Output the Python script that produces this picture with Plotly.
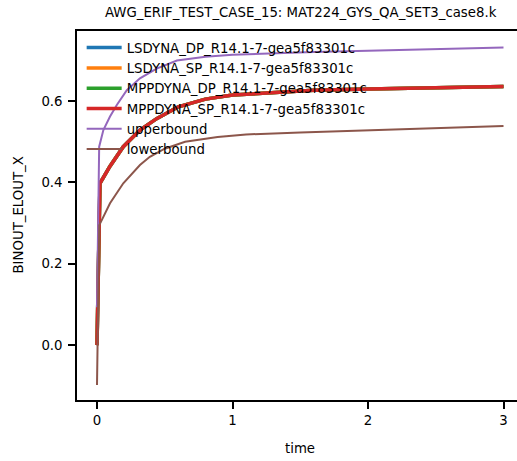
import plotly.graph_objects as go

# ---- data ----
series_names = [
    "LSDYNA_DP_R14.1-7-gea5f83301c",
    "LSDYNA_SP_R14.1-7-gea5f83301c",
    "MPPDYNA_DP_R14.1-7-gea5f83301c",
    "MPPDYNA_SP_R14.1-7-gea5f83301c",
]
t_sim = [0, 0.022, 0.096, 0.194, 0.317, 0.44, 0.6, 0.8, 1.0, 1.3, 1.6, 2.0, 2.5, 3.0]
v_lsdyna_dp = [0.0, 0.398, 0.44, 0.488, 0.529, 0.557, 0.586, 0.605, 0.615, 0.622, 0.627, 0.63, 0.633, 0.636]
v_lsdyna_sp = [0.0, 0.398, 0.44, 0.488, 0.529, 0.557, 0.586, 0.605, 0.615, 0.622, 0.627, 0.63, 0.633, 0.636]
v_mppdyna_dp = [0.0, 0.398, 0.44, 0.488, 0.529, 0.557, 0.586, 0.605, 0.615, 0.622, 0.627, 0.63, 0.633, 0.636]
v_mppdyna_sp = [0.0, 0.398, 0.44, 0.488, 0.529, 0.557, 0.586, 0.605, 0.615, 0.622, 0.627, 0.63, 0.633, 0.636]

t_upper = [0, 0.016, 0.047, 0.096, 0.145, 0.22, 0.317, 0.44, 0.59, 0.8, 1.0, 1.3, 1.6, 2.0, 2.5, 3.0]
v_upper = [0.093, 0.488, 0.529, 0.562, 0.59, 0.627, 0.656, 0.68, 0.70, 0.709, 0.714, 0.718, 0.721, 0.724, 0.728, 0.732]

t_lower = [0, 0.017, 0.096, 0.194, 0.317, 0.39, 0.5, 0.65, 0.89, 1.1, 1.5, 2.0, 2.5, 3.0]
v_lower = [-0.098, 0.295, 0.349, 0.398, 0.443, 0.463, 0.483, 0.5, 0.512, 0.518, 0.523, 0.528, 0.533, 0.539]

x_ticks = [0, 1, 2, 3]
y_ticks = [0.0, 0.2, 0.4, 0.6]

title_text = "AWG_ERIF_TEST_CASE_15: MAT224_GYS_QA_SET3_case8.k"
x_label = "time"
y_label = "BINOUT_ELOUT_X"

colors = ["#1f77b4", "#ff7f0e", "#2ca02c", "#d62728", "#9467bd", "#8c564b"]

# ---- figure ----
W, H = 517, 461
L, R, T, B = 77, 0, 31, 61
FONT = "DejaVu Sans"
FS = 13.3

fig = go.Figure()
sim_values = [v_lsdyna_dp, v_lsdyna_sp, v_mppdyna_dp, v_mppdyna_sp]
for name, vals, c in zip(series_names, sim_values, colors[:4]):
    fig.add_trace(go.Scatter(x=t_sim, y=vals, mode="lines", name=name,
                             line=dict(color=c, width=3.5)))
fig.add_trace(go.Scatter(x=t_upper, y=v_upper, mode="lines", name="upperbound",
                         line=dict(color=colors[4], width=2)))
fig.add_trace(go.Scatter(x=t_lower, y=v_lower, mode="lines", name="lowerbound",
                         line=dict(color=colors[5], width=2)))

axis_common = dict(showgrid=False, zeroline=False, showline=True, linecolor="black",
                   linewidth=1.6, ticks="outside", ticklen=7, tickwidth=1.5,
                   tickcolor="black", tickfont=dict(family=FONT, size=FS, color="black"))

fig.update_layout(
    width=W, height=H,
    margin=dict(l=L, r=R, t=T, b=B, pad=0),
    paper_bgcolor="white", plot_bgcolor="white",
    font=dict(family=FONT, size=FS, color="black"),
    showlegend=True,
    legend=dict(x=0.0106, y=0.996, xanchor="left", yanchor="top", itemwidth=35,
                bgcolor="rgba(0,0,0,0)", borderwidth=0,
                font=dict(family=FONT, size=FS, color="black"), tracegroupgap=0),
    xaxis=dict(range=[-0.1476, 3.0996], tickvals=x_ticks, ticktext=[str(v) for v in x_ticks],
               mirror=True, **axis_common),
    yaxis=dict(range=[-0.135, 0.7725], tickvals=y_ticks, tickformat=".1f",
               ticklabelstandoff=3, **axis_common),
    annotations=[
        dict(text=title_text, xref="paper", yref="paper", x=(301 - L) / (W - L - R),
             y=1 + (T - 12) / (H - T - B), xanchor="center", yanchor="middle",
             showarrow=False, font=dict(family=FONT, size=FS, color="black")),
        dict(text=x_label, xref="paper", yref="paper", x=(300 - L) / (W - L - R),
             y=-(448 - (H - B)) / (H - T - B), xanchor="center", yanchor="middle",
             showarrow=False, font=dict(family=FONT, size=FS, color="black")),
        dict(text=y_label, xref="paper", yref="paper", x=-(L - 18) / (W - L - R),
             y=0.5, xanchor="center", yanchor="middle", textangle=-90,
             showarrow=False, font=dict(family=FONT, size=FS, color="black")),
    ],
)

fig.write_html("out.html", config={"displayModeBar": False},
               post_script="document.body.style.margin='0';document.body.style.overflow='hidden';")
